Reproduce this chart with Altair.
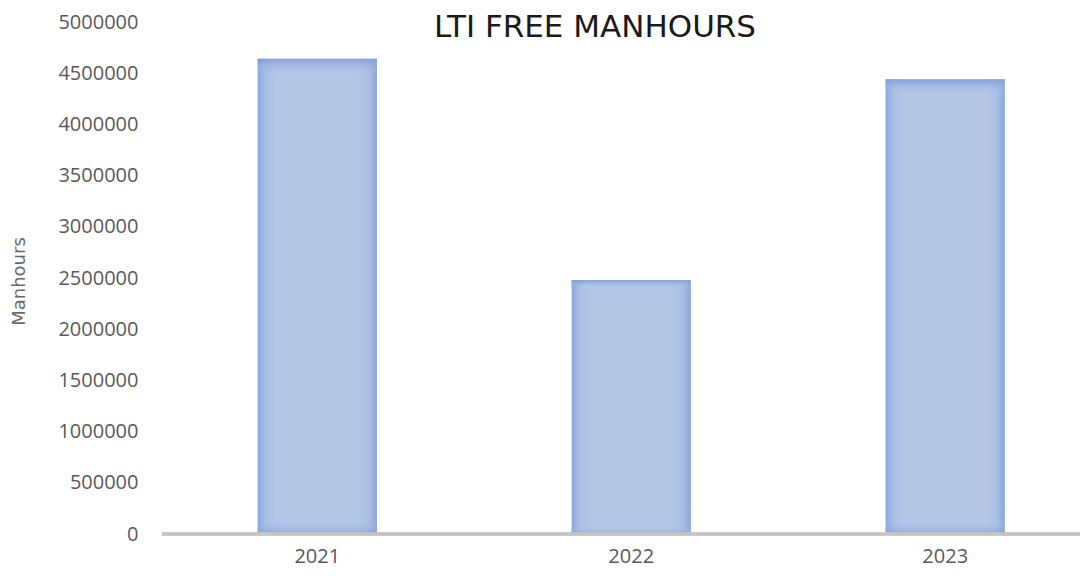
import altair as alt
import pandas as pd

years = ["2021", "2022", "2023"]
manhours = [4640000, 2480000, 4440000]
y_ticks = [0, 500000, 1000000, 1500000, 2000000, 2500000, 3000000,
           3500000, 4000000, 4500000, 5000000]
chart_title = "LTI FREE MANHOURS"
y_title = "Manhours"

df = pd.DataFrame({"year": years, "manhours": manhours})

W, H = 918, 512
LABEL_FONT = "Open Sans"
TITLE_FONT = "DejaVu Sans"

x_enc = alt.X(
    "year:N",
    sort=years,
    scale=alt.Scale(paddingInner=0.62, paddingOuter=0.272, align=0.56),
    axis=alt.Axis(
        title=None, domain=False, ticks=False, labelAngle=0,
        labelFont=LABEL_FONT, labelFontSize=20, labelColor="#595959",
        labelPadding=22, labelBaseline="middle",
    ),
)
y_enc = alt.Y(
    "manhours:Q",
    scale=alt.Scale(domain=[0, 5000000], nice=False),
    axis=alt.Axis(
        values=y_ticks, format="d", grid=False, domain=False, ticks=False,
        labelFont=LABEL_FONT, labelFontSize=20, labelColor="#595959",
        labelPadding=24,
        title=y_title, titleFont=TITLE_FONT, titleFontSize=18,
        titleFontWeight="normal", titleColor="#6A6A6A",
        titleX=-143, titleY=H / 2 + 3, titleBaseline="middle", titleAngle=-90,
    ),
)

h_grad = alt.Gradient(
    gradient="linear", x1=0, x2=1, y1=0, y2=0,
    stops=[
        alt.GradientStop(color="#8AA6DA", offset=0),
        alt.GradientStop(color="#A9BFE4", offset=0.07),
        alt.GradientStop(color="#B4C7E7", offset=0.16),
        alt.GradientStop(color="#B4C7E7", offset=0.84),
        alt.GradientStop(color="#A9BFE4", offset=0.93),
        alt.GradientStop(color="#8AA6DA", offset=1),
    ],
)
v_grad = alt.Gradient(
    gradient="linear", x1=0, x2=0, y1=0, y2=1,
    stops=[
        alt.GradientStop(color="rgba(125,155,215,0.85)", offset=0),
        alt.GradientStop(color="rgba(180,199,231,0)", offset=0.035),
        alt.GradientStop(color="rgba(180,199,231,0)", offset=0.97),
        alt.GradientStop(color="rgba(125,155,215,0.7)", offset=1),
    ],
)

bars = alt.Chart(df).mark_bar(color=h_grad).encode(x=x_enc, y=y_enc)
bars_v = alt.Chart(df).mark_bar(color=v_grad).encode(x=x_enc, y=y_enc)

baseline = alt.Chart(df).mark_rule(color="#C4C4C4", strokeWidth=3).encode(
    x=alt.value(0), x2=alt.value(W + 10), y=alt.datum(0)
)

title_df = pd.DataFrame({"t": [chart_title]})
title = alt.Chart(title_df).mark_text(
    font=TITLE_FONT, fontSize=31, color="#1A1A1A", baseline="middle",
    align="center",
).encode(text="t:N", x=alt.value(433), y=alt.value(6))

chart = alt.layer(bars, bars_v, baseline, title).properties(
    width=W, height=H,
    autosize=alt.AutoSizeParams(type="none"),
    padding={"left": 154, "top": 14, "right": 0, "bottom": 35},
).configure_view(stroke=None)

chart.save("out.html", embed_options={"renderer": "svg", "actions": False})
